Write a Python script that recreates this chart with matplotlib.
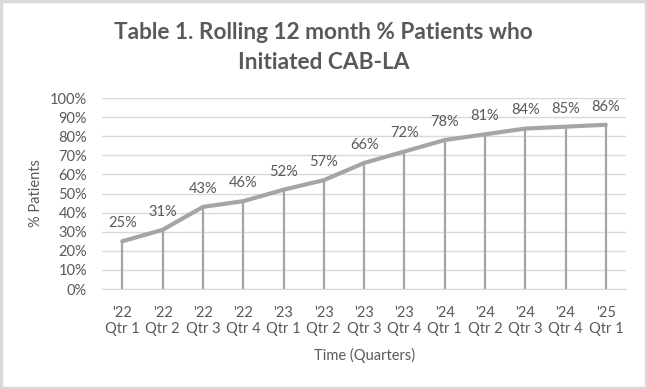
import matplotlib.pyplot as plt
from matplotlib.patches import Rectangle

plt.rcParams['font.family'] = ['Lato', 'DejaVu Sans']

# Data
quarters = ["'22\nQtr 1", "'22\nQtr 2", "'22\nQtr 3", "'22\nQtr 4",
            "'23\nQtr 1", "'23\nQtr 2", "'23\nQtr 3", "'23\nQtr 4",
            "'24\nQtr 1", "'24\nQtr 2", "'24\nQtr 3", "'24\nQtr 4",
            "'25\nQtr 1"]
pct_patients = [25, 31, 43, 46, 52, 57, 66, 72, 78, 81, 84, 85, 86]

text_col = '#595959'
line_col = '#A5A5A5'
grid_col = '#D9D9D9'

fig = plt.figure(figsize=(6.47, 3.89), dpi=100)
ax = fig.add_axes([0.158, 0.257, 0.8095, 0.491])

x = list(range(len(quarters)))
ax.plot(x, pct_patients, color=line_col, linewidth=3, solid_capstyle='round', zorder=3)
# drop lines
ax.vlines(x, 0, pct_patients, color=line_col, linewidth=1.6, zorder=2)

for xi, v in zip(x, pct_patients):
    ax.annotate(f'{v}%', (xi, v), xytext=(0, 8), textcoords='offset points',
                ha='center', va='bottom', fontsize=10.5, color=text_col)

ax.set_xlim(-0.5, len(quarters) - 0.5)
ax.set_ylim(0, 100)
ax.set_yticks(range(0, 101, 10))
ax.set_yticklabels([f'{t}%' for t in range(0, 101, 10)])
ax.set_xticks(x)
ax.set_xticklabels(quarters)
ax.yaxis.grid(True, color=grid_col, linewidth=1)
ax.set_axisbelow(True)
for s in ['top', 'right', 'left']:
    ax.spines[s].set_visible(False)
ax.spines['bottom'].set_color(grid_col)
ax.tick_params(axis='both', length=0, labelsize=10.5, labelcolor=text_col)
ax.tick_params(axis='x', pad=12)
ax.tick_params(axis='y', pad=11)

ax.set_ylabel('% Patients', fontsize=10.5, color=text_col, labelpad=5)
ax.set_xlabel('Time (Quarters)', fontsize=10.5, color=text_col, labelpad=9)

fig.text(0.5, 0.878, 'Table 1. Rolling 12 month % Patients who\nInitiated CAB-LA',
         ha='center', va='center', fontsize=16.3, fontweight='bold', color=text_col,
         linespacing=1.5)

# outer frame
fig.patches.append(Rectangle((0.002, 0.003), 0.996, 0.994, transform=fig.transFigure,
                             fill=False, edgecolor='#D9D9D9', linewidth=2.5))

fig.savefig('out.png', dpi=100)
